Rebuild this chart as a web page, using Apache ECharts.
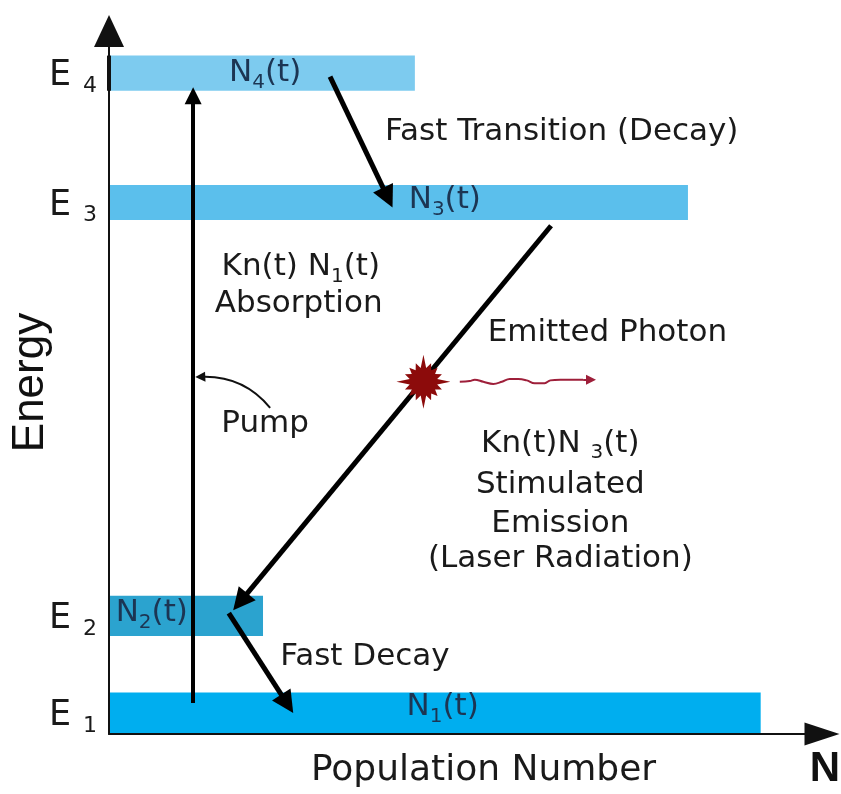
<!DOCTYPE html>
<html>
<head>
<meta charset="utf-8">
<script src="https://cdn.jsdelivr.net/npm/echarts@6/dist/echarts.min.js"></script>
<style>
  html, body { margin: 0; padding: 0; background: #fff; }
  #chart { width: 841px; height: 794px; }
</style>
</head>
<body>
<div id="chart"></div>
<script>
// energy levels, bottom (E1) to top (E4)
const levelNames = ['1', '2', '3', '4']
const levelEnergy = [3.0, 16.8, 75.6, 94.0]
const levelThickness = [5.8, 5.7, 5.0, 5.0]
const population = [91.4, 21.6, 81.2, 42.9]
const levelColors = ['#00aeef', '#2ba3cf', '#5bbfec', '#7dcbef']

// N1(t)..N4(t) labels inside the bands
const popLabelX = [46.8, 6.0, 47.1, 21.9]
const popLabelY = [3.8, 17.2, 75.9, 94.0]

// transitions (line ends, the arrow head goes past them)
const pumpLine = [[11.8, 4.4], [11.8, 90.8]]
const fastTransition = [[31.0, 93.5], [39.1, 76.3]]
const stimulated = [[62.0, 72.3], [18.4, 18.8]]
const fastDecay = [[16.8, 17.2], [25.0, 4.3]]
const pumpPointer = [[22.6, 46.4], [12.8, 50.8]]
const e4Edge = [[0, 91.5], [0, 96.5]]

// emitted photon
const photonAt = [44.1, 50.1]
const photonWave = [[49.2, 50.1], [50.6, 50.2], [51.3, 50.4], [52.5, 50.1], [53.9, 49.8], [55.1, 50.1],
  [56.2, 50.5], [57.4, 50.5], [58.6, 50.3], [59.7, 49.9], [61.1, 49.9], [61.9, 50.3], [63.3, 50.4], [66.5, 50.4]]
const photonHead = [[66.5, 50.4], [67.6, 50.4]]

// annotations
const noteText = [
  'Fast Transition (Decay)',
  '{m|Kn(t) N}{s|1}{m|(t)}',
  'Absorption',
  'Emitted Photon',
  'Pump',
  '{m|Kn(t)N }{s|3}{m|(t)}',
  'Stimulated',
  'Emission',
  '(Laser Radiation)',
  'Fast Decay'
]
const noteX = [63.5, 26.9, 26.6, 69.9, 21.9, 63.3, 63.3, 63.3, 63.3, 35.9]
const noteY = [85.6, 66.4, 61.2, 57.0, 44.1, 41.3, 35.4, 29.9, 24.9, 10.9]

const FONT = 'DejaVu Sans'
const subRich = {
  m: { fontFamily: FONT, fontSize: 31, lineHeight: 39, verticalAlign: 'middle' },
  s: { fontFamily: FONT, fontSize: 20, lineHeight: 20, verticalAlign: 'bottom' }
}

function burstPath() {
  const pts = []
  const n = 16
  for (let i = 0; i < n * 2; i++) {
    const a = Math.PI * i / n
    const r = i % 2 ? 14 : (i % 8 === 0 ? 27 : 20)
    pts.push((r * Math.cos(a)).toFixed(2) + ',' + (r * Math.sin(a)).toFixed(2))
  }
  return 'path://M' + pts.join('L') + 'Z'
}

const chart = echarts.init(document.getElementById('chart'))
chart.setOption({
  backgroundColor: '#fff',
  animation: false,
  grid: { left: 109, right: 19, top: 31, bottom: 60, outerBoundsMode: 'none', containLabel: false },
  xAxis: {
    type: 'value',
    min: 0,
    max: 100,
    z: 5,
    name: 'Population Number',
    nameLocation: 'middle',
    nameGap: 19,
    nameMoveOverlap: false,
    nameTextStyle: { fontFamily: FONT, fontSize: 36, color: '#1a1a1a', padding: [0, 0, 0, 36] },
    axisLine: { symbol: ['none', 'triangle'], symbolSize: [23, 35], lineStyle: { color: '#111', width: 2 } },
    axisTick: { show: false },
    axisLabel: { show: false },
    splitLine: { show: false }
  },
  yAxis: {
    type: 'value',
    min: 0,
    max: 100,
    z: 5,
    name: 'Energy',
    nameLocation: 'middle',
    nameGap: 56,
    nameMoveOverlap: false,
    nameTextStyle: { fontFamily: 'Liberation Sans', fontSize: 44, color: '#111' },
    axisLine: { symbol: ['none', 'triangle'], symbolSize: [30, 32], lineStyle: { color: '#111', width: 2 } },
    axisTick: { show: false },
    splitLine: { show: false },
    axisLabel: {
      customValues: levelEnergy,
      margin: 12,
      padding: [6, 0, 0, 0],
      formatter(v) {
        let idx = 0
        levelEnergy.forEach((e, i) => { if (Math.abs(e - v) < Math.abs(levelEnergy[idx] - v)) idx = i })
        return '{e|E}{s|' + levelNames[idx] + '}'
      },
      rich: {
        e: { fontFamily: FONT, fontSize: 35, lineHeight: 42, color: '#1a1a1a', verticalAlign: 'middle' },
        s: { fontFamily: FONT, fontSize: 22, lineHeight: 22, color: '#1a1a1a', verticalAlign: 'bottom', padding: [0, 0, 0, 12] }
      }
    }
  },
  graphic: [{
    type: 'text',
    x: 825,
    y: 769,
    style: { text: 'N', fontFamily: 'Liberation Sans', fontWeight: 'bold', fontSize: 42, fill: '#111', align: 'center', verticalAlign: 'middle' }
  }],
  series: [{
    type: 'custom',
    name: 'levels',
    silent: true,
    data: population.map((n, i) => [n, levelEnergy[i], levelThickness[i]]),
    renderItem(params, api) {
      const e = api.value(1)
      const h = api.value(2)
      const p0 = api.coord([0, e + h / 2])
      const p1 = api.coord([api.value(0), e - h / 2])
      return {
        type: 'rect',
        shape: { x: p0[0], y: p0[1], width: p1[0] - p0[0], height: p1[1] - p0[1] },
        style: { fill: levelColors[params.dataIndex] }
      }
    }
  }, {
    type: 'lines',
    name: 'e4Edge',
    coordinateSystem: 'cartesian2d',
    silent: true,
    symbol: 'none',
    lineStyle: { color: '#111', width: 4, opacity: 1 },
    data: [{ coords: e4Edge }]
  }, {
    type: 'lines',
    name: 'pump',
    coordinateSystem: 'cartesian2d',
    silent: true,
    symbol: ['none', 'triangle'],
    symbolSize: [19, 17],
    lineStyle: { color: '#000', width: 4, opacity: 1 },
    data: [{ coords: pumpLine }]
  }, {
    type: 'lines',
    name: 'transitions',
    coordinateSystem: 'cartesian2d',
    silent: true,
    symbol: ['none', 'triangle'],
    symbolSize: [15, 22],
    lineStyle: { color: '#000', width: 5, opacity: 1 },
    data: [{ coords: fastTransition }, { coords: stimulated }, { coords: fastDecay }]
  }, {
    type: 'lines',
    name: 'pointer',
    coordinateSystem: 'cartesian2d',
    silent: true,
    symbol: ['none', 'triangle'],
    symbolSize: [7, 10],
    lineStyle: { color: '#111', width: 2, opacity: 1, curveness: -0.25 },
    data: [{ coords: pumpPointer }]
  }, {
    type: 'line',
    name: 'photon',
    silent: true,
    smooth: 0.4,
    showSymbol: false,
    lineStyle: { color: '#9e1f3a', width: 2 },
    data: photonWave
  }, {
    type: 'lines',
    name: 'photonHead',
    coordinateSystem: 'cartesian2d',
    silent: true,
    symbol: ['none', 'triangle'],
    symbolSize: [7, 10],
    lineStyle: { color: '#9e1f3a', width: 2, opacity: 1 },
    data: [{ coords: photonHead }]
  }, {
    type: 'scatter',
    name: 'burst',
    silent: true,
    symbol: burstPath(),
    symbolSize: 54,
    itemStyle: { color: '#8c0b0b', opacity: 1 },
    data: [photonAt]
  }, {
    type: 'scatter',
    name: 'popLabels',
    silent: true,
    symbolSize: 0,
    itemStyle: { opacity: 1 },
    data: popLabelX.map((x, i) => ({
      value: [x, popLabelY[i]],
      label: { formatter: '{m|N}{s|' + levelNames[i] + '}{m|(t)}' }
    })),
    label: {
      show: true,
      position: 'inside',
      color: '#1c3553',
      rich: {
        m: Object.assign({}, subRich.m, { color: '#1c3553' }),
        s: Object.assign({}, subRich.s, { color: '#1c3553' })
      }
    }
  }, {
    type: 'scatter',
    name: 'notes',
    silent: true,
    symbolSize: 0,
    itemStyle: { opacity: 1 },
    data: noteX.map((x, i) => ({ value: [x, noteY[i]], label: { formatter: noteText[i] } })),
    label: {
      show: true,
      position: 'inside',
      fontFamily: FONT,
      fontSize: 31,
      color: '#1a1a1a',
      rich: {
        m: Object.assign({}, subRich.m, { color: '#1a1a1a' }),
        s: Object.assign({}, subRich.s, { color: '#1a1a1a' })
      }
    }
  }]
})
</script>
</body>
</html>
